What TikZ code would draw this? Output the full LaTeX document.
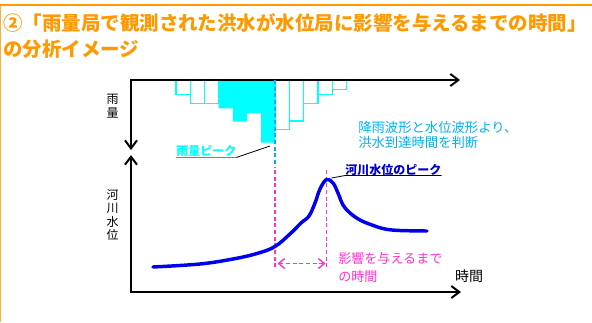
\documentclass[tikz,border=0pt]{standalone}
\usepackage{fontspec}
\newfontfamily\jp{Noto Sans CJK JP}
\usetikzlibrary{arrows.meta}
\definecolor{ttl}{RGB}{255,153,0}
\definecolor{framec}{RGB}{255,175,50}
\definecolor{raincyan}{RGB}{0,255,255}
\definecolor{skyblue}{RGB}{0,176,240}
\definecolor{pinkm}{RGB}{255,51,204}
\definecolor{wlblue}{RGB}{0,0,240}
\definecolor{pkblue}{RGB}{0,0,204}
\begin{document}
\begin{tikzpicture}[x=0.75pt,y=-0.75pt,
  axis/.style={line width=1.5pt,black},
  axtip/.tip={Straight Barb[length=6pt,width=9pt]},
  pktip/.tip={Straight Barb[length=4.5pt,width=7.5pt]},
  ttlstyle/.style={anchor=west,inner sep=0pt,text=ttl,font=\jp\bfseries\fontsize{14.6pt}{16pt}\selectfont},
  hollowbar/.style={draw=raincyan,line width=0.9pt},
  lbl/.style={inner sep=0pt,font=\jp\fontsize{9pt}{10.2pt}\selectfont,align=center},
  note/.style={anchor=west,inner sep=0pt,text=skyblue,font=\jp\fontsize{10pt}{11.25pt}\selectfont,align=left},
  pinknote/.style={anchor=west,inner sep=0pt,text=pinkm,font=\jp\fontsize{9.8pt}{13.5pt}\selectfont,align=left},
  peaklbl/.style={anchor=west,inner sep=0pt,font=\jp\bfseries\fontsize{9pt}{10pt}\selectfont},
  vdash/.style={dash pattern=on 3pt off 2pt,line width=0.9pt}]
\useasboundingbox (0,0) rectangle (592,322);
% frame
\draw[framec,line width=1pt] (0.6,5) -- (0.6,322);
\draw[ttl,line width=2pt] (0,5) -- (592,5);
% title
\node[ttlstyle] (title1) at (3,23) {②「雨量局で観測された洪水が水位局に影響を与えるまでの時間」};
\node[ttlstyle] (title2) at (3,49.5) {の分析イメージ};
% rain bars
\foreach \a/\b in {176/94.3, 190.2/103.3, 204.4/103.3, 275.4/129.3, 289.6/121, 303.8/103.3, 318/94.3, 332.2/89.3}
  \draw[hollowbar] (\a,80) rectangle (\a+14.2,\b);
\fill[raincyan] (218.6,80) -- (218.6,108.3) -- (232.8,108.3) -- (232.8,121.7) -- (247,121.7) -- (247,113) -- (261,113) -- (261,142.7) -- (275,142.7) -- (275,80) -- cycle;
% axes
\coordinate (rainTip) at (131,150);
\coordinate (rainCorner) at (131,80);
\coordinate (rainEnd) at (460,80);
\coordinate (wlTip) at (131,155);
\coordinate (wlCorner) at (131,292);
\coordinate (wlEnd) at (461,292);
\draw[axis,axtip-axtip] (rainTip) -- (rainCorner) -- (rainEnd);
\draw[axis,axtip-axtip] (wlTip) -- (wlCorner) -- (wlEnd);
% axis labels
\node[lbl] (rainlbl) at (112.5,106) {雨\\量};
\node[lbl] (wllbl) at (112.5,215) {河\\川\\水\\位};
\node[inner sep=0pt,font=\jp\fontsize{10.5pt}{12pt}\selectfont] (timelbl) at (469,276.5) {時間};
% dashed reference lines
\coordinate (rdTop) at (275,80);
\coordinate (rdBot) at (275,168);
\coordinate (pd1Top) at (275,170);
\coordinate (pd1Bot) at (275,270);
\coordinate (pd2Top) at (326.5,170);
\coordinate (pd2Bot) at (326.5,270);
\draw[vdash,skyblue] (rdTop) -- (rdBot);
\draw[vdash,pinkm] (pd1Top) -- (pd1Bot);
\draw[vdash,pinkm] (pd2Top) -- (pd2Bot);
% water level curve
\draw[wlblue,line width=2.6pt,line cap=round,line join=round] plot[smooth,tension=0.6] coordinates {(153,267) (200,264) (233,259) (257,253.5) (275,246.5) (291,233) (301,223) (309,216) (315,203) (320,189) (326.5,179.5) (333,183) (338,193) (343,205) (350,213) (360,220) (372,225) (385,229) (400,230.5) (427,231)};
% pink double arrow
\coordinate (armL) at (277.5,263.5);
\coordinate (armR) at (325.5,263.5);
\draw[pinkm,line width=1.1pt,dash pattern=on 3pt off 2pt,pktip-pktip] (armL) -- (armR);
% peak labels
\node[peaklbl,text=raincyan] (rainpk) at (176,151.5) {雨量ピーク};
\coordinate (rainPeakPt) at (270,146);
\draw[gray,line width=1.3pt] (rainpk.south west) -- (rainpk.south east);
\draw[black,line width=0.6pt] (rainpk.south east) -- (rainPeakPt);
\node[peaklbl,text=pkblue] (rivpk) at (345,169.5) {河川水位のピーク};
\coordinate (rivPeakPt) at (331.5,178);
\draw[black,line width=0.6pt] (rivPeakPt) -- (rivpk.south west) -- (rivpk.south east);
% notes
\node[note] (note1) at (358,127) {降雨波形と水位波形より、};
\node[note] (note2) at (358,142) {洪水到達時間を判断};
\node[pinknote] (pink1) at (338,258.5) {影響を与えるまで};
\node[pinknote] (pink2) at (338,276.5) {の時間};
\end{tikzpicture}
\end{document}
